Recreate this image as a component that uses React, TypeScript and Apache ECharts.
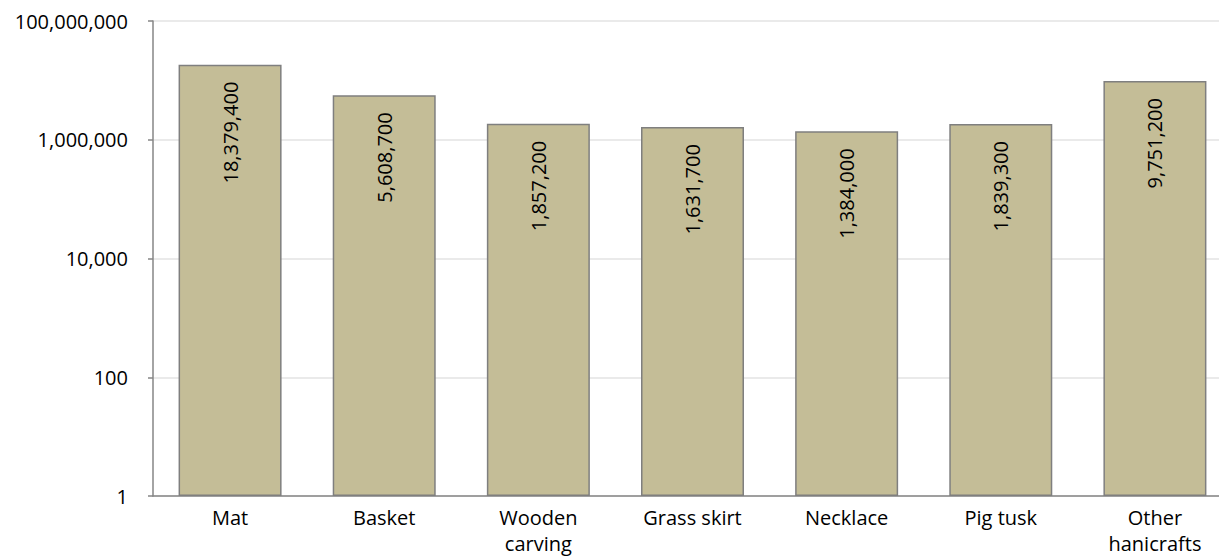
import React, { useEffect, useRef } from "react";
import * as echarts from "echarts";

const categories = ["Mat", "Basket", "Wooden\ncarving", "Grass skirt", "Necklace", "Pig tusk", "Other\nhanicrafts"];
const values = [18379400, 5608700, 1857200, 1631700, 1384000, 1839300, 9751200];

const FONT = "'Open Sans', sans-serif";

export default function App() {
  const ref = useRef<HTMLDivElement>(null);
  useEffect(() => {
    document.body.style.margin = "0";
    const chart = echarts.init(ref.current!, null, { renderer: "svg" });
    chart.setOption({
      animation: false,
      backgroundColor: "#ffffff",
      grid: { left: 153, right: 0, top: 21, bottom: 63, containLabel: false, outerBoundsMode: "none" },
      xAxis: {
        type: "category",
        data: categories,
        axisLine: { show: true, lineStyle: { color: "#868686", width: 1.5 } },
        axisTick: { show: false },
        axisLabel: {
          color: "#000",
          fontFamily: FONT,
          fontSize: 20,
          lineHeight: 26,
          margin: 8,
          interval: 0,
        },
      },
      yAxis: {
        type: "log",
        logBase: 100,
        min: 1,
        max: 100000000,
        axisLine: { show: true, lineStyle: { color: "#868686", width: 1.5 } },
        axisTick: { show: true, length: 5, lineStyle: { color: "#868686", width: 1.5 } },
        splitLine: { show: true, lineStyle: { color: "#E3E3E3", width: 1.5 } },
        axisLabel: {
          color: "#000",
          fontFamily: FONT,
          fontSize: 20,
          margin: 25,
          formatter: (v: number) => Math.round(v).toLocaleString("en-US"),
        },
      },
      series: [
        {
          type: "bar",
          data: values,
          barWidth: 103,
          itemStyle: { color: "#C4BD97", borderColor: "#7F7F7F", borderWidth: 1.5 },
          label: {
            show: true,
            position: "insideTop",
            rotate: 90,
            align: "right",
            verticalAlign: "middle",
            distance: 17,
            color: "#000",
            fontFamily: FONT,
            fontSize: 20,
            formatter: (p: any) => Number(p.value).toLocaleString("en-US"),
          },
        },
      ],
    });
    return () => chart.dispose();
  }, []);
  return (
    <div style={{ width: 1219, height: 559, overflow: "hidden", position: "relative" }}>
      <div ref={ref} style={{ width: 1232, height: 559 }} />
    </div>
  );
}
